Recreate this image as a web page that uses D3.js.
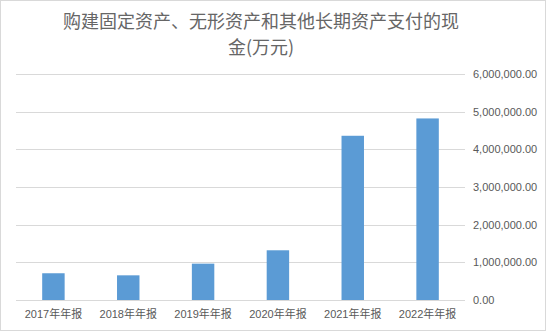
<!DOCTYPE html>
<html lang="zh">
<head>
    <meta charset="UTF-8">
    <title>购建固定资产、无形资产和其他长期资产支付的现金</title>
    <script src="https://d3js.org/d3.v7.min.js"></script>
    <style>
        body { margin: 0; background: #fff; }
        .grid line { stroke: #d9d9d9; stroke-width: 1px; }
        .axis text { fill: #595959; font-size: 11px; font-family: "Liberation Sans", "Noto Sans CJK SC", sans-serif; }
        .title { fill: #666; font-size: 18px; font-family: "Noto Sans CJK SC", sans-serif; }
    </style>
</head>
<body>
<script>
    const categories = ["2017年年报", "2018年年报", "2019年年报", "2020年年报", "2021年年报", "2022年年报"];
    const values = [710000, 655000, 965000, 1320000, 4360000, 4820000];
    const yTicks = [0, 1000000, 2000000, 3000000, 4000000, 5000000, 6000000];
    const titleLines = ["购建固定资产、无形资产和其他长期资产支付的现", "金(万元)"];

    const width = 547, height = 333;
    const margin = {top: 74, right: 82, bottom: 33, left: 16};

    const svg = d3.select("body").append("svg")
        .attr("width", width)
        .attr("height", height);

    // chart border
    svg.append("rect")
        .attr("x", 0.5).attr("y", 0.5)
        .attr("width", width - 2).attr("height", height - 3)
        .attr("fill", "#fff")
        .attr("stroke", "#d9d9d9");

    const x = d3.scaleBand()
        .domain(categories)
        .range([margin.left, width - margin.right])
        .paddingInner(0.7)
        .paddingOuter(0.35);

    const y = d3.scaleLinear()
        .domain([0, 6000000])
        .range([height - margin.bottom, margin.top]);

    // gridlines
    svg.append("g")
        .attr("class", "grid")
        .selectAll("line")
        .data(yTicks)
        .enter().append("line")
        .attr("x1", margin.left)
        .attr("x2", width - margin.right)
        .attr("y1", d => Math.round(y(d)) + 0.5)
        .attr("y2", d => Math.round(y(d)) + 0.5);

    // bars
    svg.append("g")
        .selectAll("rect")
        .data(values)
        .enter().append("rect")
        .attr("x", (d, i) => x(categories[i]))
        .attr("y", d => y(d))
        .attr("width", x.bandwidth())
        .attr("height", d => y(0) - y(d))
        .attr("fill", "#5b9bd5");

    // right value axis
    const fmt = d3.format(",.2f");
    svg.append("g")
        .attr("class", "axis")
        .attr("transform", `translate(${width - margin.right + 8},0)`)
        .call(d3.axisRight(y).tickValues(yTicks).tickFormat(fmt).tickSize(0))
        .call(g => g.select(".domain").remove())
        .call(g => g.selectAll("text").attr("x", 0));

    // category axis
    svg.append("g")
        .attr("class", "axis")
        .attr("transform", `translate(0,${height - margin.bottom})`)
        .call(d3.axisBottom(x).tickSize(0))
        .call(g => g.select(".domain").remove())
        .call(g => g.selectAll("text").attr("dy", "1.4em"));

    // title
    svg.append("g")
        .selectAll("text")
        .data(titleLines)
        .enter().append("text")
        .attr("class", "title")
        .attr("x", 261)
        .attr("y", (d, i) => 28 + i * 26)
        .attr("text-anchor", "middle")
        .text(d => d);
</script>
</body>
</html>
